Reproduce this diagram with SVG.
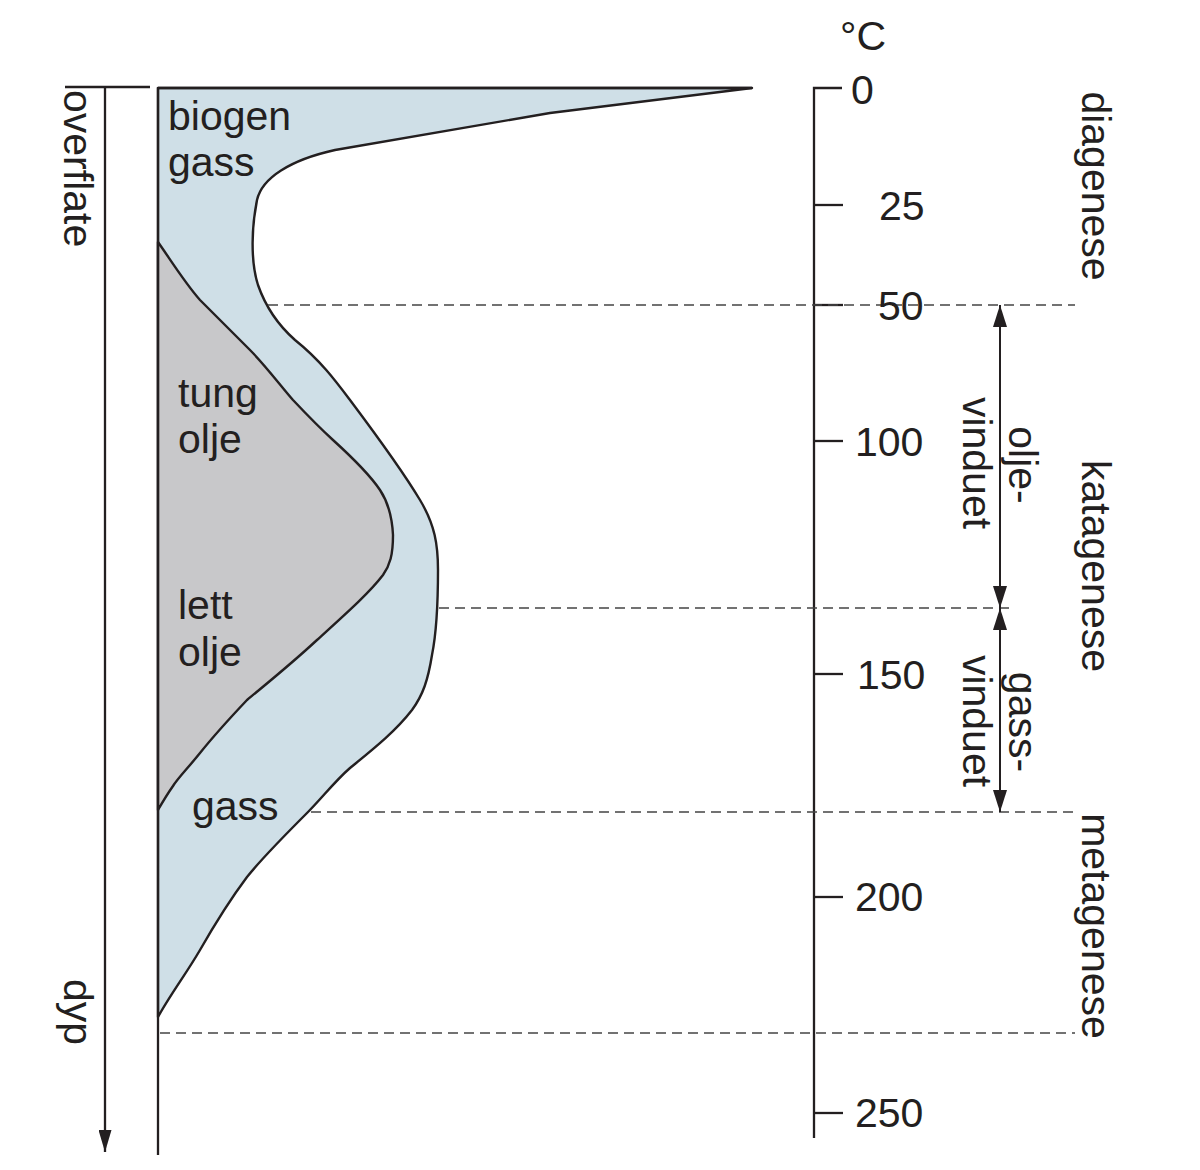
<svg xmlns="http://www.w3.org/2000/svg" width="1200" height="1170" viewBox="0 0 1200 1170">
<defs>
<style>
.t{font-family:"Liberation Sans",Arial,sans-serif;font-size:41px;fill:#231f20}
.ax{stroke:#231f20;stroke-width:2.3;fill:none}
.dash{stroke:#444;stroke-width:1.7;stroke-dasharray:10 6;fill:none}
.arr{stroke:#231f20;stroke-width:2;fill:none;marker-start:url(#ah);marker-end:url(#ah)}
.edge{stroke:#231f20;stroke-width:2.4;stroke-linejoin:round}
</style>
<marker id="ah" markerUnits="userSpaceOnUse" markerWidth="22" markerHeight="14" refX="22" refY="7" orient="auto-start-reverse" viewBox="0 0 22 14">
<path d="M0,0 L22,7 L0,14 Z" fill="#231f20"/>
</marker>
<marker id="ah1" markerUnits="userSpaceOnUse" markerWidth="22" markerHeight="13" refX="22" refY="6.5" orient="auto" viewBox="0 0 22 13">
<path d="M0,0 L22,6.5 L0,13 Z" fill="#231f20"/>
</marker>
</defs>
<rect width="1200" height="1170" fill="#fff"/>

<g id="regions">
<g id="gas-envelope">
<path class="edge" fill="#cfdfe7" d="M158,88 L752,88 L550,113 L335,150 C290,160 262,178 257,200 C252,225 250,260 258,285 C265,305 278,325 295,340 C320,360 335,380 350,400 C380,440 405,475 420,500 C435,525 438,545 438,570 C438,600 437,630 432,655 C428,680 423,695 412,710 C395,732 372,750 350,768 C335,781 322,798 308,812 C285,835 262,858 247,877 C232,897 216,922 200,950 C186,974 170,995 158,1017 Z"/>
</g>
<g id="oil-zone">
<path class="edge" fill="#c8c8ca" d="M158,242 C172,262 185,283 200,300 C218,318 235,335 250,350 C265,365 280,385 293,400 C310,418 322,430 333,440 C355,460 370,475 380,490 C388,502 392,515 393,535 C393,555 390,565 383,575 C370,592 350,610 317,640 C290,665 265,685 247,700 C230,718 212,738 200,753 C188,768 178,778 173,786 C166,796 162,803 158,810 Z"/>
</g>
</g>

<g id="axes">
<g id="depth-axis">
<line class="ax" x1="65" y1="87" x2="150" y2="87"/>
<line class="ax" x1="105" y1="87" x2="105" y2="1152" style="marker-end:url(#ah1)"/>
<line class="ax" x1="158" y1="87" x2="158" y2="1155"/>
<line class="ax" x1="158" y1="88" x2="752" y2="88" stroke-width="3"/>
</g>
<g id="temp-axis">
<path class="ax" d="M842,88 L814,88 L814,1138"/>
<line class="ax" x1="814" y1="205" x2="843" y2="205"/>
<line class="ax" x1="814" y1="305" x2="843" y2="305"/>
<line class="ax" x1="814" y1="441" x2="843" y2="441"/>
<line class="ax" x1="814" y1="674" x2="843" y2="674"/>
<line class="ax" x1="814" y1="897" x2="843" y2="897"/>
<line class="ax" x1="814" y1="1113" x2="843" y2="1113"/>
</g>
</g>

<g id="connectors">
<line class="dash" x1="268" y1="305" x2="1075" y2="305"/>
<line class="dash" x1="439" y1="608" x2="1013" y2="608"/>
<line class="dash" x1="311" y1="812" x2="1075" y2="812"/>
<line class="dash" x1="160" y1="1033" x2="1075" y2="1033"/>
<line class="arr" x1="1000" y1="305" x2="1000" y2="608"/>
<line class="arr" x1="1000" y1="608" x2="1000" y2="812"/>
</g>

<g id="labels">
<g id="temp-labels">
<text class="t" x="840" y="50">°C</text>
<text class="t" x="851" y="104">0</text>
<text class="t" x="879" y="220">25</text>
<text class="t" x="878" y="320">50</text>
<text class="t" x="855" y="456">100</text>
<text class="t" x="857" y="689">150</text>
<text class="t" x="855" y="911">200</text>
<text class="t" x="855" y="1127">250</text>
</g>
<g id="zone-labels">
<text class="t"><tspan x="168" y="130">biogen</tspan><tspan x="168" y="176">gass</tspan></text>
<text class="t"><tspan x="178" y="407">tung</tspan><tspan x="178" y="453">olje</tspan></text>
<text class="t"><tspan x="178" y="619">lett</tspan><tspan x="178" y="666">olje</tspan></text>
<text class="t" x="192" y="820">gass</text>
</g>
<g id="depth-labels">
<text class="t" transform="translate(64,90) rotate(90)">overflate</text>
<text class="t" text-anchor="middle" transform="translate(64,1012) rotate(90)">dyp</text>
</g>
<g id="window-labels">
<text class="t" text-anchor="middle" transform="rotate(90)"><tspan x="465" y="-1009">olje-</tspan><tspan x="463" y="-963">vinduet</tspan></text>
<text class="t" text-anchor="middle" transform="rotate(90)"><tspan x="722" y="-1009">gass-</tspan><tspan x="721" y="-963">vinduet</tspan></text>
</g>
<g id="stage-labels">
<text class="t" text-anchor="middle" transform="translate(1082,186) rotate(90)">diagenese</text>
<text class="t" text-anchor="middle" transform="translate(1082,566) rotate(90)">katagenese</text>
<text class="t" text-anchor="middle" transform="translate(1082,926) rotate(90)">metagenese</text>
</g>
</g>
</svg>
